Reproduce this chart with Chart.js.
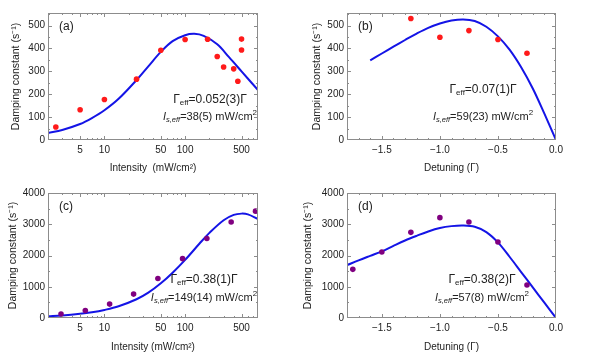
<!DOCTYPE html>
<html>
<head>
<meta charset="utf-8">
<script src="https://cdn.jsdelivr.net/npm/chart.js@4"></script>
<style>
  body { margin: 0; background: #fff; width: 595px; height: 362px; position: relative; overflow: hidden; }
  .painel { position: absolute; }
</style>
</head>
<body>
<div class="painel" style="left:0;top:0;width:290px;height:180px"><canvas id="gA"></canvas></div>
<div class="painel" style="left:290px;top:0;width:305px;height:180px"><canvas id="gB"></canvas></div>
<div class="painel" style="left:0;top:180px;width:290px;height:182px"><canvas id="gC"></canvas></div>
<div class="painel" style="left:290px;top:180px;width:305px;height:182px"><canvas id="gD"></canvas></div>
<script>
// dados medidos (pontos)
const intensityA = [2.5, 5, 10, 25, 50, 100, 190, 250, 300, 400, 450, 500, 500];
const valuesA = [57, 132, 177, 266, 392, 439, 440, 365, 319, 311, 257, 393, 441];
const detuningB = [-1.25, -1.0, -0.75, -0.5, -0.25];
const valuesB = [531, 449, 478, 439, 379];
const intensityC = [2.9, 5.8, 11.6, 23, 46, 93, 186, 372, 745];
const valuesC = [130, 240, 445, 765, 1265, 1900, 2545, 3070, 3420];
const detuningD = [-1.75, -1.5, -1.25, -1.0, -0.75, -0.5, -0.25];
const valuesD = [1557, 2112, 2741, 3211, 3072, 2432, 1056];

// curvas de ajuste
const fitIntensityA = [2, 3, 5, 7, 10, 15, 25, 35, 50, 70, 100, 130, 170, 250, 350, 500, 800];
const fitA = [31, 44, 70, 96, 130, 180, 262, 322, 385, 432, 458, 464, 455, 418, 362, 300, 218];
const fitDetuningB = [-1.6, -1.5, -1.4, -1.3, -1.2, -1.1, -1.0, -0.9, -0.8, -0.7, -0.6, -0.5, -0.4, -0.3, -0.2, -0.1, 0];
const fitB = [348, 378, 408, 437, 465, 490, 509, 522, 527, 520, 495, 453, 395, 318, 225, 115, 0];
const fitIntensityC = [2, 3, 5, 7, 10, 15, 25, 35, 50, 70, 100, 150, 200, 300, 400, 500, 600, 800];
const fitC = [53, 79, 133, 183, 258, 375, 600, 810, 1110, 1450, 1860, 2375, 2725, 3130, 3300, 3340, 3315, 3165];
const fitDetuningD = [-1.8, -1.7, -1.6, -1.5, -1.4, -1.3, -1.2, -1.1, -1.0, -0.9, -0.8, -0.7, -0.6, -0.5, -0.4, -0.3, -0.2, -0.1, 0];
const fitD = [1690, 1845, 1990, 2133, 2310, 2480, 2630, 2770, 2880, 2940, 2960, 2920, 2750, 2420, 1960, 1470, 980, 490, 0];

// eixos
const logTicks = [5, 10, 50, 100, 500];
const logMinor = [2, 3, 4, 6, 7, 8, 9, 20, 30, 40, 60, 70, 80, 90, 200, 300, 400, 600, 700, 800];
const detTicks = [-1.5, -1.0, -0.5, 0.0];
const detMinor = [-1.8, -1.7, -1.6, -1.4, -1.3, -1.2, -1.1, -0.9, -0.8, -0.7, -0.6, -0.4, -0.3, -0.2, -0.1];
const yTicksSmall = [0, 100, 200, 300, 400, 500];
const yMinorSmall = [50, 150, 250, 350, 450, 550];
const yTicksBig = [0, 1000, 2000, 3000, 4000];
const yMinorBig = [500, 1500, 2500, 3500];

const FONTE = '"Liberation Sans", Arial, sans-serif';
const AZUL = '#1414e6';

function pares(xs, ys) { return xs.map((x, i) => ({ x: x, y: ys[i] })); }

// escreve texto com sub/sobrescritos
function textoRico(ctx, partes, cx, cy) {
  let total = 0;
  partes.forEach(p => { ctx.font = p.f; total += ctx.measureText(p.t).width; });
  let x = cx - total / 2;
  ctx.textBaseline = 'middle';
  ctx.textAlign = 'left';
  ctx.fillStyle = '#222';
  partes.forEach(p => {
    ctx.font = p.f;
    ctx.fillText(p.t, x, cy + (p.dy || 0));
    x += ctx.measureText(p.t).width;
  });
}

const molduraPlugin = {
  id: 'moldura',
  afterDatasetsDraw(chart, args, opts) {
    const { ctx, chartArea: a, scales } = chart;
    ctx.save();
    ctx.strokeStyle = '#8c8c8c';
    ctx.lineWidth = 1;
    ctx.strokeRect(a.left + 0.5, a.top + 0.5, a.right - a.left - 1, a.bottom - a.top - 1);
    const marca = (vals, len, eixo) => {
      vals.forEach(v => {
        ctx.beginPath();
        if (eixo === 'x') {
          const p = Math.round(scales.x.getPixelForValue(v)) + 0.5;
          if (p < a.left || p > a.right) return;
          ctx.moveTo(p, a.bottom); ctx.lineTo(p, a.bottom - len);
          ctx.moveTo(p, a.top); ctx.lineTo(p, a.top + len);
        } else {
          const p = Math.round(scales.y.getPixelForValue(v)) + 0.5;
          if (p < a.top || p > a.bottom) return;
          ctx.moveTo(a.left, p); ctx.lineTo(a.left + len, p);
          ctx.moveTo(a.right, p); ctx.lineTo(a.right - len, p);
        }
        ctx.stroke();
      });
    };
    marca(opts.xMaior, 4, 'x');
    marca(opts.xMenor, 2, 'x');
    marca(opts.yMaior, 4, 'y');
    marca(opts.yMenor, 2, 'y');
    ctx.restore();

    // rotulo do painel e anotacoes
    ctx.save();
    ctx.font = '12px ' + FONTE;
    ctx.fillStyle = '#222';
    ctx.textBaseline = 'middle';
    ctx.textAlign = 'left';
    ctx.fillText(opts.rotulo, a.left + 11, a.top + 14);
    const grande = '12px ' + FONTE, pequeno = '8px ' + FONTE;
    const medio = '11px ' + FONTE;
    const grandeI = 'italic 11px ' + FONTE, pequenoI = 'italic 7.5px ' + FONTE;
    textoRico(ctx, [
      { t: 'Γ', f: grande },
      { t: 'eff', f: pequeno, dy: 3 },
      { t: '=' + opts.gamma + 'Γ', f: grande }
    ], opts.cx, opts.y1);
    textoRico(ctx, [
      { t: 'I', f: grandeI },
      { t: 's,eff', f: pequenoI, dy: 3 },
      { t: '=' + opts.isat + ' mW/cm', f: medio },
      { t: '2', f: pequeno, dy: -4 }
    ], opts.cx, opts.y2);
    ctx.restore();
  }
};

function criarGrafico(id, cfg) {
  const ctx = document.getElementById(id).getContext('2d');
  return new Chart(ctx, {
    type: 'scatter',
    data: {
      datasets: [
        {
          data: pares(cfg.fx, cfg.fy),
          showLine: true,
          borderColor: AZUL,
          borderWidth: 2,
          pointRadius: 0,
          tension: 0.35,
          order: 1
        },
        {
          data: pares(cfg.px, cfg.py),
          showLine: false,
          pointRadius: 2.8,
          pointBackgroundColor: cfg.cor,
          pointBorderWidth: 0,
          order: 0
        }
      ]
    },
    options: {
      responsive: true,
      maintainAspectRatio: false,
      animation: false,
      layout: { padding: { left: 0, right: cfg.dir, top: 13, bottom: 0 } },
      plugins: {
        legend: { display: false },
        tooltip: { enabled: false },
        moldura: {
          xMaior: cfg.xTicks, xMenor: cfg.xMinor, yMaior: cfg.yTicks, yMenor: cfg.yMinor,
          rotulo: cfg.rotulo, gamma: cfg.gamma, isat: cfg.isat, cx: cfg.cx, y1: cfg.y1, y2: cfg.y2
        }
      },
      scales: {
        x: {
          type: cfg.log ? 'logarithmic' : 'linear',
          min: cfg.xmin, max: cfg.xmax,
          grid: { display: false, drawTicks: false },
          border: { display: false },
          afterBuildTicks: s => { s.ticks = cfg.xTicks.map(v => ({ value: v })); },
          afterFit: s => { s.height = cfg.altX; },
          ticks: {
            color: '#222', padding: 4, maxRotation: 0, autoSkip: false,
            font: { family: FONTE, size: 10 },
            callback: v => cfg.log ? String(v) : (v < 0 ? '\u2212' + Math.abs(v).toFixed(1) : v.toFixed(1))
          },
          title: {
            display: true, text: cfg.tituloX, color: '#222',
            font: { family: FONTE, size: 10 }, padding: { top: 4, bottom: cfg.padTitX }
          }
        },
        y: {
          min: 0, max: cfg.ymax,
          grid: { display: false, drawTicks: false },
          border: { display: false },
          afterBuildTicks: s => { s.ticks = cfg.yTicks.map(v => ({ value: v })); },
          afterFit: s => { s.width = cfg.largY; },
          ticks: {
            color: '#222', padding: 3, font: { family: FONTE, size: 10 },
            callback: v => String(v)
          },
          title: {
            display: true, text: 'Damping constant (s\u207B\u00B9)', color: '#222',
            font: { family: FONTE, size: 10.5 }, padding: { top: cfg.padTitY, bottom: 4 }
          }
        }
      }
    },
    plugins: [molduraPlugin]
  });
}

criarGrafico('gA', {
  fx: fitIntensityA, fy: fitA, px: intensityA, py: valuesA, cor: '#ff1a1a',
  log: true, xmin: 2, xmax: 800, xTicks: logTicks, xMinor: logMinor,
  ymax: 555, yTicks: yTicksSmall, yMinor: yMinorSmall,
  largY: 48, dir: 32, altX: 40, padTitX: 6, padTitY: 10, tituloX: 'Intensity  (mW/cm\u00B2)',
  rotulo: '(a)', gamma: '0.052(3)', isat: '38(5)', cx: 210, y1: 100, y2: 117
});
criarGrafico('gB', {
  fx: fitDetuningB, fy: fitB, px: detuningB, py: valuesB, cor: '#ff1a1a',
  log: false, xmin: -1.8, xmax: 0, xTicks: detTicks, xMinor: detMinor,
  ymax: 555, yTicks: yTicksSmall, yMinor: yMinorSmall,
  largY: 57, dir: 39, altX: 40, padTitX: 6, padTitY: 21, tituloX: 'Detuning (Γ)',
  rotulo: '(b)', gamma: '0.07(1)', isat: '59(23)', cx: 193, y1: 90, y2: 117
});
criarGrafico('gC', {
  fx: fitIntensityC, fy: fitC, px: intensityC, py: valuesC, cor: '#800080',
  log: true, xmin: 2, xmax: 800, xTicks: logTicks, xMinor: logMinor,
  ymax: 4000, yTicks: yTicksBig, yMinor: yMinorBig,
  largY: 48, dir: 32, altX: 44, padTitX: 9, padTitY: 7, tituloX: 'Intensity (mW/cm\u00B2)',
  rotulo: '(c)', gamma: '0.38(1)', isat: '149(14)', cx: 204, y1: 100, y2: 118
});
criarGrafico('gD', {
  fx: fitDetuningD, fy: fitD, px: detuningD, py: valuesD, cor: '#800080',
  log: false, xmin: -1.8, xmax: 0, xTicks: detTicks, xMinor: detMinor,
  ymax: 4000, yTicks: yTicksBig, yMinor: yMinorBig,
  largY: 57, dir: 39, altX: 44, padTitX: 9, padTitY: 12, tituloX: 'Detuning (Γ)',
  rotulo: '(d)', gamma: '0.38(2)', isat: '57(8)', cx: 192, y1: 100, y2: 118
});
</script>
</body>
</html>
